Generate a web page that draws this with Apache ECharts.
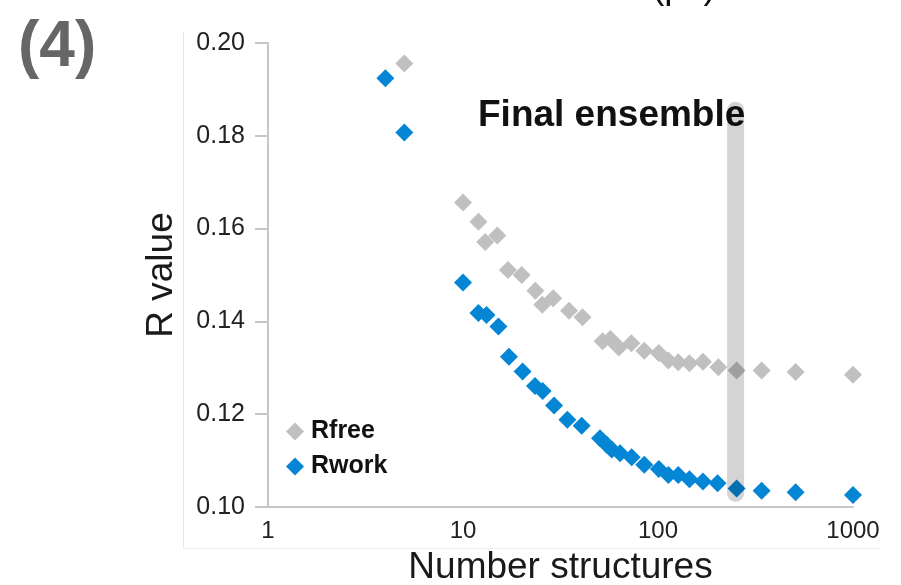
<!DOCTYPE html>
<html>
<head>
<meta charset="utf-8">
<script src="https://cdn.jsdelivr.net/npm/echarts@6/dist/echarts.min.js"></script>
<style>
html,body{margin:0;padding:0;background:#fff;}
#chart{width:901px;height:585px;}
</style>
</head>
<body>
<div id="chart"></div>
<script>
var FONT = 'Arial, "Liberation Sans", Helvetica, sans-serif';

var rfreeN = [5, 10, 12, 13, 15, 17, 20, 23.5, 25.5, 29, 35, 41, 52, 57, 63, 73, 85, 101, 113, 127, 145, 170, 204, 253, 340, 508, 1000];
var rfreeV = [0.1956, 0.1656, 0.1615, 0.1571, 0.1585, 0.1511, 0.1500, 0.1466, 0.1436, 0.1450, 0.1423, 0.1409, 0.1357, 0.1362, 0.1344, 0.1353, 0.1337, 0.1332, 0.1316, 0.1312, 0.1310, 0.1313, 0.1301, 0.1294, 0.1294, 0.1291, 0.1285];

var rworkN = [4, 5, 10, 12, 13.2, 15.2, 17.2, 20.2, 23.4, 25.6, 29.3, 34.3, 40.6, 50.4, 54.6, 57.9, 63.9, 73.3, 85, 101, 113, 127, 145, 170, 202, 253, 340, 508, 1000];
var rworkV = [0.1924, 0.1807, 0.1484, 0.1418, 0.1414, 0.1389, 0.1324, 0.1292, 0.1261, 0.1250, 0.1219, 0.1188, 0.1175, 0.1148, 0.1134, 0.1124, 0.1116, 0.1107, 0.1091, 0.1082, 0.1069, 0.1069, 0.1060, 0.1055, 0.1051, 0.1040, 0.1035, 0.1032, 0.1026];

var ensembleN = [250, 250];
var ensembleV = [0.1029, 0.1855];

var seriesNames = ['Rfree', 'Rwork'];
var yTicks = [0.10, 0.12, 0.14, 0.16, 0.18, 0.20];
var xTicks = [1, 10, 100, 1000];

function zip(a, b) { return a.map(function (v, i) { return [v, b[i]]; }); }

var chart = echarts.init(document.getElementById('chart'), null, {renderer: 'canvas'});

chart.setOption({
  animation: false,
  backgroundColor: '#ffffff',
  textStyle: {fontFamily: FONT},
  grid: {left: 268, right: 48, top: 43, bottom: 78, containLabel: false, outerBoundsMode: 'none'},
  legend: {
    data: seriesNames,
    orient: 'vertical',
    left: 281,
    top: 414,
    itemWidth: 18,
    itemHeight: 18,
    itemGap: 10,
    icon: 'diamond',
    textStyle: {fontFamily: FONT, fontSize: 25, fontWeight: 'bold', color: '#111', padding: [0, 0, 0, 2]}
  },
  xAxis: {
    type: 'log',
    logBase: 10,
    min: 1,
    max: 1000,
    name: 'Number structures',
    nameLocation: 'middle',
    nameGap: 42,
    nameTextStyle: {fontFamily: FONT, fontSize: 37, color: '#1a1a1a'},
    axisLine: {show: true, lineStyle: {color: '#c6c6c6', width: 2}},
    axisTick: {show: false},
    splitLine: {show: false},
    axisLabel: {
      fontFamily: FONT, fontSize: 24, color: '#222', margin: 12,
      formatter: function (v) { return xTicks.indexOf(Math.round(v)) >= 0 ? String(Math.round(v)) : ''; }
    }
  },
  yAxis: {
    type: 'value',
    min: 0.10,
    max: 0.20,
    interval: 0.02,
    name: 'R value',
    nameLocation: 'middle',
    nameRotate: 90,
    nameGap: 88,
    nameTextStyle: {fontFamily: FONT, fontSize: 37, color: '#1a1a1a'},
    axisLine: {show: true, lineStyle: {color: '#c6c6c6', width: 2}},
    axisTick: {show: true, length: 13, lineStyle: {color: '#c6c6c6', width: 2}},
    splitLine: {show: false},
    axisLabel: {
      fontFamily: FONT, fontSize: 25, color: '#222', margin: 23, padding: [4, 0, 0, 0],
      formatter: function (v) { return v.toFixed(2); }
    }
  },
  series: [
    {
      name: 'Rfree',
      type: 'scatter',
      symbol: 'diamond',
      symbolSize: 18,
      itemStyle: {color: '#c0c0c0', opacity: 1},
      data: zip(rfreeN, rfreeV),
      z: 2
    },
    {
      name: 'Rwork',
      type: 'scatter',
      symbol: 'diamond',
      symbolSize: 18,
      itemStyle: {color: '#0586d4', opacity: 1},
      data: zip(rworkN, rworkV),
      z: 3
    },
    {
      name: 'Final ensemble band',
      type: 'line',
      symbol: 'none',
      silent: true,
      lineStyle: {color: 'rgba(0,0,0,0.17)', width: 17, cap: 'round'},
      data: zip(ensembleN, ensembleV),
      z: 5
    }
  ],
  graphic: [
    {type: 'line', silent: true, shape: {x1: 183.5, y1: 32, x2: 183.5, y2: 548}, style: {stroke: '#e6e6e6', lineWidth: 1}},
    {type: 'line', silent: true, shape: {x1: 183, y1: 548.5, x2: 880, y2: 548.5}, style: {stroke: '#eeeeee', lineWidth: 1}},
    {type: 'text', silent: true, x: 478, y: 116, style: {text: 'Final ensemble', font: 'bold 37px ' + FONT, fill: '#111', verticalAlign: 'middle', align: 'left'}},
    {type: 'text', silent: true, x: 18, y: 48, style: {text: '(4)', font: 'bold 64px ' + FONT, fill: '#666666', verticalAlign: 'middle', align: 'left'}},
    {type: 'text', silent: true, x: 652, y: -12, style: {text: '(ps)', font: '37px ' + FONT, fill: '#111', verticalAlign: 'middle', align: 'left'}}
  ]
});
</script>
</body>
</html>
